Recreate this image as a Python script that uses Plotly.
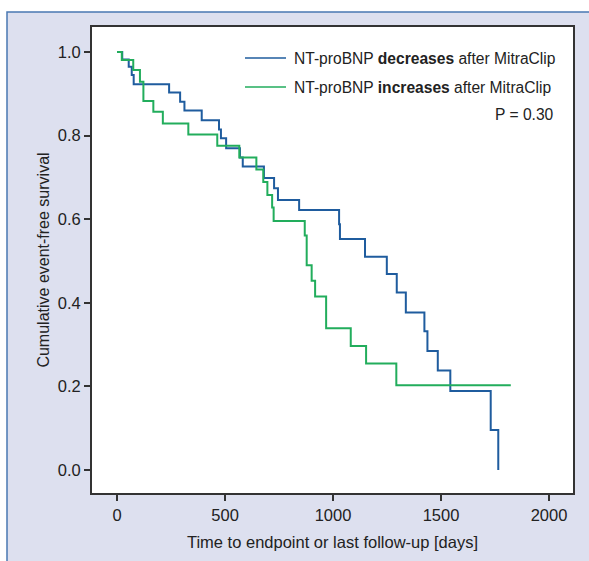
import plotly.graph_objects as go

# Kaplan-Meier step points (days, cumulative event-free survival)
dec_days = [0, 24, 54, 68, 77, 241, 292, 312, 392, 472, 481, 505, 569, 582,
            680, 727, 745, 843, 1028, 1032, 1148, 1249, 1295, 1337, 1423,
            1437, 1485, 1543, 1730, 1765]
dec_surv = [1.0, 0.982, 0.965, 0.945, 0.923, 0.903, 0.881, 0.860, 0.837,
            0.815, 0.794, 0.770, 0.748, 0.726, 0.699, 0.674, 0.646, 0.622,
            0.588, 0.553, 0.510, 0.469, 0.425, 0.377, 0.332, 0.285, 0.238,
            0.189, 0.096, 0.0]

inc_days = [0, 22, 75, 106, 122, 168, 212, 330, 464, 566, 645, 677, 696,
            718, 725, 869, 878, 901, 917, 968, 1082, 1153, 1293, 1823]
inc_surv = [1.0, 0.981, 0.957, 0.929, 0.883, 0.857, 0.829, 0.803, 0.776,
            0.748, 0.719, 0.689, 0.658, 0.628, 0.596, 0.561, 0.490, 0.453,
            0.415, 0.339, 0.297, 0.255, 0.203, 0.203]

x_ticks = [0, 500, 1000, 1500, 2000]
y_ticks = [0.0, 0.2, 0.4, 0.6, 0.8, 1.0]

BLUE = "#1f5c9e"
GREEN = "#22ad5c"
FRAME = "#dde0ef"
FONT = "Liberation Sans, Arial, Helvetica, sans-serif"

fig = go.Figure()
fig.add_trace(go.Scatter(x=dec_days, y=dec_surv, mode="lines",
                         line=dict(color=BLUE, width=2, shape="hv"),
                         showlegend=False))
fig.add_trace(go.Scatter(x=inc_days, y=inc_surv, mode="lines",
                         line=dict(color=GREEN, width=2, shape="hv"),
                         showlegend=False))

W, H = 589, 561
L, R, T, B = 92, 16, 27, 68
pw, ph = W - L - R, H - T - B


def px(xp):
    return (xp - L) / pw


def py(yp):
    return (H - B - yp) / ph


# outer tinted frame and white plotting panel
fig.add_shape(type="rect", xref="paper", yref="paper", layer="below",
              x0=px(7), x1=px(620), y0=py(600), y1=py(12),
              fillcolor=FRAME, line=dict(color="#4a78b3", width=1.5))
fig.add_shape(type="rect", xref="paper", yref="paper", layer="below",
              x0=0, x1=1, y0=0, y1=1, fillcolor="white", line=dict(width=0))

# legend
legend_rows = [
    (58, BLUE, "NT-proBNP <b>decreases</b> after MitraClip"),
    (87, GREEN, "NT-proBNP <b>increases</b> after MitraClip"),
]
for yp, col, txt in legend_rows:
    fig.add_shape(type="line", xref="paper", yref="paper",
                  x0=px(245), x1=px(286), y0=py(yp), y1=py(yp),
                  line=dict(color=col, width=1.5))
    fig.add_annotation(xref="paper", yref="paper", x=px(292), y=py(yp),
                       xanchor="left", yanchor="middle", text=txt,
                       showarrow=False, font=dict(size=15.6, color="#222"))
fig.add_annotation(xref="paper", yref="paper", x=px(556), y=py(114),
                   xanchor="right", yanchor="middle", text="P = 0.30",
                   showarrow=False, font=dict(size=15.6, color="#222"))

axis_common = dict(showline=True, mirror=True, linecolor="#333", linewidth=2,
                   ticks="outside", ticklen=6, tickwidth=1.5, tickcolor="#333",
                   showgrid=False, zeroline=False,
                   tickfont=dict(size=16.5, color="#222"))

fig.update_xaxes(range=[-116, 2111], tickvals=x_ticks,
                 ticktext=[str(v) for v in x_ticks],
                 title=dict(text="Time to endpoint or last follow-up [days]",
                            font=dict(size=16.5, color="#222"), standoff=14),
                 **axis_common)
fig.update_yaxes(range=[-0.055, 1.06], tickvals=y_ticks,
                 ticktext=[f"{v:.1f}" for v in y_ticks],
                 title=dict(text="Cumulative event-free survival",
                            font=dict(size=16, color="#222"), standoff=4),
                 **axis_common)

fig.update_layout(width=W, height=H, margin=dict(l=L, r=R, t=T, b=B),
                  paper_bgcolor="white", plot_bgcolor="white",
                  font=dict(family=FONT, color="#222"))

fig.write_html("out.html")
